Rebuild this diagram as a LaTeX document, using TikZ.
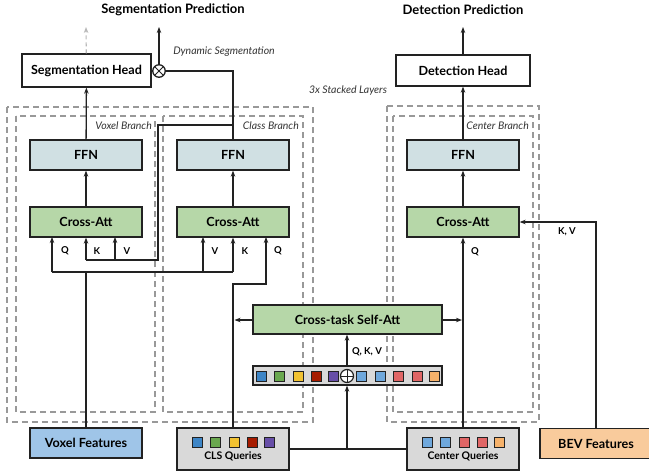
\documentclass[tikz,border=0pt]{standalone}
\usepackage{fontspec}
\setmainfont{Lato}
\usetikzlibrary{arrows.meta}
\definecolor{ffnc}{HTML}{D0E0E3}
\definecolor{attc}{HTML}{B6D7A8}
\definecolor{qgray}{HTML}{D9D9D9}
\definecolor{voxc}{HTML}{9FC5E8}
\definecolor{bevc}{HTML}{F9CB9C}
\definecolor{cblue}{HTML}{3D85C6}
\definecolor{cgreen}{HTML}{6AA84F}
\definecolor{cyellow}{HTML}{F1C232}
\definecolor{cdred}{HTML}{A61C00}
\definecolor{cpurple}{HTML}{674EA7}
\definecolor{clblue}{HTML}{6FA8DC}
\definecolor{cpink}{HTML}{E06666}
\definecolor{corange}{HTML}{F6B26B}
\definecolor{dashc}{HTML}{999999}
\definecolor{linec}{HTML}{222222}
\begin{document}
\begin{tikzpicture}[x=1pt,y=-1pt,
  box/.style={draw=linec,line width=1.3pt,inner sep=0pt,font=\fontsize{12.6}{14}\selectfont\bfseries},
  ffn/.style={box,fill=ffnc,minimum width=112pt,minimum height=30pt},
  att/.style={box,fill=attc,minimum width=112pt,minimum height=30pt},
  dbox/.style={draw=dashc,line width=1.3pt,dash pattern=on 6pt off 4pt},
  arr/.style={draw=linec,line width=1.3pt,-{Stealth[length=6pt,width=4.5pt]}},
  ln/.style={draw=linec,line width=1.3pt},
  sq/.style={draw=linec,line width=0.9pt,minimum size=10pt,inner sep=0pt},
  lbl/.style={font=\fontsize{9.5}{11}\selectfont\bfseries,inner sep=0pt},
  itl/.style={font=\fontsize{10.5}{12}\selectfont\itshape,text=black!80,inner sep=0pt},
  ttl/.style={font=\fontsize{13}{15}\selectfont\bfseries,inner sep=0pt}]
\useasboundingbox (0,0) rectangle (649,475);
\fill[white] (0,0) rectangle (649,475);

% dashed containers
\draw[dbox] (7,107) rectangle (313,422);
\draw[dbox] (16,116) rectangle (155,412);
\draw[dbox] (163,116) rectangle (303,412);
\draw[dbox] (387,106) rectangle (539,422);
\draw[dbox] (393,116) rectangle (533,412);

% titles and italic labels
\node[ttl] (segpred) at (173,10) {Segmentation Prediction};
\node[ttl] (detpred) at (463,10) {Detection Prediction};
\node[itl] (dynseg) at (224,52) {Dynamic Segmentation};
\node[itl] (stack) at (348,91) {3x Stacked Layers};
\node[itl,anchor=east] (vbr) at (152,126) {Voxel Branch};
\node[itl,anchor=east] (cbr) at (299,126) {Class Branch};
\node[itl,anchor=east] (tbr) at (529,126) {Center Branch};

% heads
\node[box,fill=white,minimum width=129pt,minimum height=33pt] (segh) at (86.5,70.5) {Segmentation Head};
\node[draw=linec,line width=1.3pt,circle,minimum size=12.5pt,inner sep=0pt,fill=white,
  path picture={\draw[linec,line width=1pt] (path picture bounding box.north west)--(path picture bounding box.south east)
  (path picture bounding box.north east)--(path picture bounding box.south west);}] (ot) at (159,71) {};
\node[box,fill=white,minimum width=134pt,minimum height=31pt] (deth) at (463,70.5) {Detection Head};

% branches
\node[ffn] (vffn) at (86,155) {FFN};
\node[ffn] (cffn) at (233,155) {FFN};
\node[ffn] (tffn) at (463,155) {FFN};
\node[att] (vatt) at (86,222) {Cross-Att};
\node[att] (catt) at (233,222) {Cross-Att};
\node[att] (tatt) at (463,222) {Cross-Att};

% self-attention and token bar
\node[att,minimum width=189pt,minimum height=29pt] (sa) at (347.5,319.5) {Cross-task Self-Att};
\node[box,fill=qgray,minimum width=189pt,minimum height=19pt] (bar) at (347.5,375.5) {};
\node[sq,fill=cblue] (b1) at (261,376) {};
\node[sq,fill=cgreen] (b2) at (279.5,376) {};
\node[sq,fill=cyellow] (b3) at (298,376) {};
\node[sq,fill=cdred] (b4) at (316.5,376) {};
\node[sq,fill=cpurple] (b5) at (333,376) {};
\node[draw=linec,line width=1.2pt,circle,minimum size=13pt,inner sep=0pt,fill=white,
  path picture={\draw[linec,line width=1pt] (path picture bounding box.north)--(path picture bounding box.south)
  (path picture bounding box.east)--(path picture bounding box.west);}] (plus) at (347,376) {};
\node[sq,fill=clblue] (b6) at (361,376) {};
\node[sq,fill=clblue] (b7) at (380,376) {};
\node[sq,fill=cpink] (b8) at (398.5,376) {};
\node[sq,fill=cpink] (b9) at (417,376) {};
\node[sq,fill=corange] (b10) at (434,376) {};

% inputs
\node[box,fill=voxc,minimum width=112pt,minimum height=30pt] (vf) at (86,443) {Voxel Features};
\node[box,fill=qgray,minimum width=112pt,minimum height=42pt] (cls) at (233,449) {};
\node[font=\fontsize{10.5}{12}\selectfont\bfseries,inner sep=0pt] (clst) at (233,456) {CLS Queries};
\node[sq,fill=cblue] (c1) at (197,442) {};
\node[sq,fill=cgreen] (c2) at (215.5,442) {};
\node[sq,fill=cyellow] (c3) at (234,442) {};
\node[sq,fill=cdred] (c4) at (252.5,442) {};
\node[sq,fill=cpurple] (c5) at (269,442) {};
\node[box,fill=qgray,minimum width=112pt,minimum height=42pt] (cq) at (463,449) {};
\node[font=\fontsize{10.5}{12}\selectfont\bfseries,inner sep=0pt] (cqt) at (463,456) {Center Queries};
\node[sq,fill=clblue] (d1) at (427,442) {};
\node[sq,fill=clblue] (d2) at (445.5,442) {};
\node[sq,fill=cpink] (d3) at (464,442) {};
\node[sq,fill=cpink] (d4) at (482.5,442) {};
\node[sq,fill=corange] (d5) at (499,442) {};
\node[box,fill=bevc,minimum width=112pt,minimum height=30pt] (bev) at (596,443.5) {BEV Features};

% coordinates for junctions / free ends
\coordinate (segtop) at (86,27);
\coordinate (ottop) at (159,27);
\coordinate (dettop) at (463,27);
\coordinate (jc) at (233,125);
\coordinate (jv) at (158,125);
\coordinate (jvb) at (158,260);
\coordinate (vk) at (86,260);
\coordinate (vv) at (115,260);
\coordinate (vvt) at (115,237);
\coordinate (hq) at (52,272);
\coordinate (hqt) at (52,237);
\coordinate (hm) at (86,272);
\coordinate (hv) at (203,272);
\coordinate (hvt) at (203,237);
\coordinate (hk) at (233,272);
\coordinate (cq1) at (233,284);
\coordinate (cq2) at (266,284);
\coordinate (cq3) at (266,237);
\coordinate (saL) at (234.5,320);
\coordinate (saR) at (462,320);
\coordinate (pj) at (347,449);

% connectors
\draw[arr] (vatt) -- (vffn);
\draw[arr] (catt) -- (cffn);
\draw[arr] (tatt) -- (tffn);
\draw[arr] (vffn) -- (segh);
\draw[arr] (tffn) -- (deth);
\draw[arr,draw=dashc!70,line width=1.1pt,dash pattern=on 4pt off 3pt] (segh) -- (segtop);
\draw[arr] (ot) -- (ottop);
\draw[arr] (deth) -- (dettop);
\draw[ln] (segh.east) -- (ot.west);
\draw[ln] (ot.east) -| (cffn.north);
% class output to voxel K,V
\draw[ln] (jc) -- (jv) -- (jvb) -- (vk);
\draw[arr] (vk) -- (vatt.south);
\draw[arr] (vv) -- (vvt);
% voxel features
\draw[ln] (vf.north) -- (hm);
\draw[ln] (hq) -- (hk);
\draw[arr] (hq) -- (hqt);
\draw[arr] (hv) -- (hvt);
\draw[arr] (hk) -- (catt.south);
% CLS queries
\draw[arr] (cls.north) -- (cq1) -- (cq2) -- (cq3);
% center queries
\draw[arr] (cq.north) -- (tatt.south);
\draw[arr] (bev.north) |- (tatt.east);
% self attention
\draw[ln] (cls.east |- pj) -- (cq.west |- pj);
\draw[arr] (pj) -- (bar.south -| pj);
\draw[arr] (bar.north -| pj) -- (sa.south -| pj);
\draw[arr] (sa.west |- saL) -- (saL);
\draw[arr] (sa.east |- saR) -- (saR);

% Q K V labels
\node[lbl] (lq1) at (65,251) {Q};
\node[lbl] (lk1) at (97,251) {K};
\node[lbl] (lv1) at (127,251) {V};
\node[lbl] (lv2) at (215,251) {V};
\node[lbl] (lk2) at (245,251) {K};
\node[lbl] (lq2) at (278,251) {Q};
\node[lbl] (lq3) at (475,252) {Q};
\node[lbl] (lkv) at (567,232) {K, V};
\node[lbl,anchor=west] (lqkv) at (352,352) {Q, K, V};
\end{tikzpicture}
\end{document}
